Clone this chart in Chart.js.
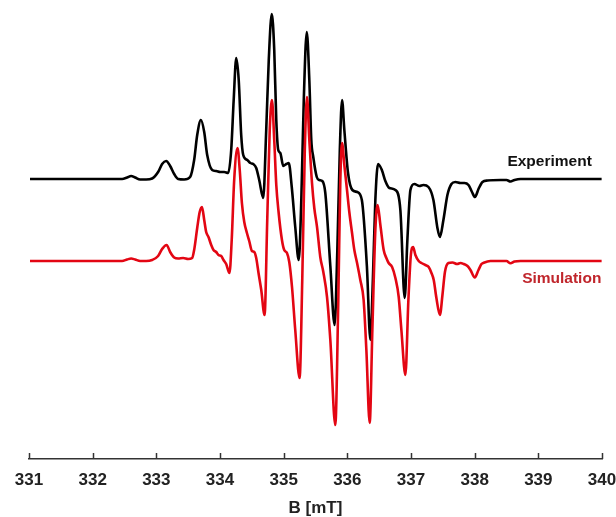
<!DOCTYPE html>
<html>
<head>
<meta charset="utf-8">
<script src="https://cdn.jsdelivr.net/npm/chart.js@4"></script>
<style>
  html, body { margin: 0; padding: 0; background: #fff; }
  canvas { display: block; }
</style>
</head>
<body>
<canvas id="chart" width="616" height="517"></canvas>
<script>
// measured EPR spectrum: field (mT) and derivative signal (arb. units)
const expField = [
  331.016, 331.487, 332.116, 332.462, 332.541, 332.604, 332.667, 332.745, 332.840, 332.934,
  333.028, 333.091, 333.154, 333.217, 333.280, 333.343, 333.437, 333.531, 333.594, 333.642,
  333.700, 333.752, 333.799, 333.877, 333.940, 334.003, 334.066, 334.129, 334.176, 334.215,
  334.255, 334.294, 334.333, 334.365, 334.428, 334.475, 334.522, 334.569, 334.616, 334.679,
  334.726, 334.766, 334.813, 334.852, 334.884, 334.915, 334.947, 334.994, 335.041, 335.080,
  335.127, 335.182, 335.237, 335.277, 335.316, 335.363, 335.403, 335.434, 335.465, 335.520,
  335.560, 335.607, 335.654, 335.733, 335.800, 335.843, 335.882, 335.917, 335.953, 336.011,
  336.079, 336.157, 336.228, 336.307, 336.362, 336.401, 336.440, 336.483, 336.542, 336.597,
  336.660, 336.755, 336.833, 336.901, 336.943, 336.991, 337.053, 337.132, 337.195, 337.274,
  337.352, 337.415, 337.454, 337.509, 337.572, 337.635, 337.698, 337.777, 337.840, 337.903,
  337.958, 338.005, 338.060, 338.123, 338.201, 338.406, 338.500, 338.563, 338.626, 338.720,
  339.349, 339.994
];
const expSignal = [
  0, 0, 0, 0, 1.5, 3, 1.5, -0.5, -0.5, 0.5,
  7, 15, 18, 13, 5, 0, -0.5, 2, 19, 44,
  59, 47, 24, 9, 8, 7, 7, 6, 29, 79,
  121, 99, 44, 24, 19, 16, 15, 11, -1, -19,
  49, 119, 165, 129, 59, 29, 26, 13, 15, 16,
  -8, -48, -81, -21, 79, 147, 99, 39, 22, 2,
  -1, -2, -14, -87, -146, -71, 29, 79, 49, 6,
  -11, -13, -21, -87, -161, -101, -21, 15, 9, -2,
  -9, -11, -31, -119, -61, -11, -5, -7, -6, -8,
  -21, -49, -58, -41, -16, -5, -3, -4, -4, -6,
  -13, -18, -10, -3, -1.5, -1, -1, -2.5, -1, 0,
  0, 0
];

// simulated spectrum on the same field axis
const simField = [
  331.016, 331.487, 332.116, 332.462, 332.541, 332.604, 332.667, 332.745, 332.840, 332.934,
  333.028, 333.091, 333.162, 333.217, 333.280, 333.343, 333.421, 333.500, 333.563, 333.594,
  333.642, 333.681, 333.717, 333.752, 333.783, 333.819, 333.862, 333.898, 333.940, 333.976,
  334.019, 334.055, 334.097, 334.149, 334.184, 334.223, 334.275, 334.310, 334.344, 334.381,
  334.423, 334.459, 334.502, 334.538, 334.569, 334.605, 334.648, 334.700, 334.742, 334.781,
  334.816, 334.852, 334.884, 334.920, 334.973, 335.009, 335.052, 335.088, 335.131, 335.182,
  335.250, 335.292, 335.332, 335.366, 335.403, 335.445, 335.481, 335.524, 335.575, 335.623,
  335.681, 335.733, 335.811, 335.858, 335.890, 335.917, 335.953, 335.995, 336.031, 336.074,
  336.110, 336.153, 336.204, 336.256, 336.299, 336.351, 336.393, 336.440, 336.476, 336.519,
  336.571, 336.613, 336.649, 336.703, 336.755, 336.807, 336.849, 336.912, 336.959, 336.998,
  337.033, 337.069, 337.121, 337.164, 337.226, 337.278, 337.321, 337.357, 337.399, 337.454,
  337.494, 337.533, 337.588, 337.651, 337.725, 337.777, 337.829, 337.887, 337.934, 338.002,
  338.060, 338.107, 338.143, 338.248, 338.406, 338.500, 338.563, 338.626, 338.720, 339.349,
  339.994
];
const simSignal = [
  0, 0, 0, 0, 1.5, 2.5, 1.5, 0, 0, 1,
  5, 12, 16, 9, 3.5, 2.5, 3, 2, 3, 11,
  33, 49, 54, 41, 29, 24, 16, 11, 9, 6,
  5, 1, -3, -12, 21, 81, 113, 91, 58, 39,
  28, 20, 10, 9, 3, -12, -29, -54, 41, 131,
  161, 121, 76, 49, 21, 11, 8, -1, -26, -69,
  -117, -19, 111, 164, 121, 78, 53, 34, 4, -11,
  -36, -79, -164, -39, 81, 118, 96, 71, 49, 28,
  11, -2, -19, -39, -89, -162, -69, 31, 56, 36,
  11, 3, -2, -6, -17, -36, -69, -114, -39, 6,
  14, 6, 0, -2, -4, -6, -12, -19, -37, -54,
  -34, -11, -2, -1.5, -3, -2, -3, -5, -9, -16.5,
  -9, -3, -1.7, 0, 0, 0, -2.3, -0.5, 0, 0,
  0
];

// the two traces are stacked with a vertical shift
const expOffset = 280;
const simOffset = 198;
const traceNames = ["Experiment", "Simulation"];
const fieldMin = 331;
const fieldMax = 340;

const fontFamily = "'Liberation Sans', Arial, sans-serif";

function toPoints(field, signal, offset) {
  return field.map((b, i) => ({ x: b, y: signal[i] + offset }));
}

// short tick marks pointing up into the plot
const innerTicks = {
  id: "innerTicks",
  afterDraw(chart) {
    const x = chart.scales.x;
    const ctx = chart.ctx;
    ctx.save();
    ctx.strokeStyle = "#333";
    ctx.lineWidth = 1.5;
    x.ticks.forEach(t => {
      const px = Math.round(x.getPixelForValue(t.value)) + 0.5;
      ctx.beginPath();
      ctx.moveTo(px, x.top);
      ctx.lineTo(px, x.top - 6);
      ctx.stroke();
    });
    ctx.restore();
  }
};

// names written next to each trace
const traceLabels = {
  id: "traceLabels",
  afterDatasetsDraw(chart) {
    const { ctx, scales: { x, y } } = chart;
    ctx.save();
    ctx.font = "bold 15.5px " + fontFamily;
    ctx.textAlign = "right";
    ctx.textBaseline = "middle";
    ctx.fillStyle = "#111";
    ctx.fillText(traceNames[0], x.getPixelForValue(339.84), y.getPixelForValue(expOffset + 17.5));
    ctx.fillStyle = "#c0262c";
    ctx.fillText(traceNames[1], x.getPixelForValue(339.99), y.getPixelForValue(simOffset - 17.5));
    ctx.restore();
  }
};

new Chart(document.getElementById("chart"), {
  type: "line",
  data: {
    datasets: [
      {
        label: traceNames[0],
        data: toPoints(expField, expSignal, expOffset),
        borderColor: "#000",
        borderWidth: 2.6,
        pointRadius: 0,
        cubicInterpolationMode: "monotone",
        borderJoinStyle: "round",
        order: 1
      },
      {
        label: traceNames[1],
        data: toPoints(simField, simSignal, simOffset),
        borderColor: "#e30613",
        borderWidth: 2.6,
        pointRadius: 0,
        cubicInterpolationMode: "monotone",
        borderJoinStyle: "round",
        order: 0
      }
    ]
  },
  options: {
    responsive: false,
    animation: false,
    devicePixelRatio: 1,
    layout: { padding: { left: 29, right: 14, top: 0, bottom: 0 } },
    plugins: { legend: { display: false }, tooltip: { enabled: false } },
    scales: {
      x: {
        type: "linear",
        min: fieldMin,
        max: fieldMax,
        grid: { display: false, drawTicks: false },
        border: { display: true, color: "#333", width: 1.5 },
        ticks: {
          stepSize: 1,
          autoSkip: false,
          maxRotation: 0,
          padding: 13,
          color: "#222",
          font: { family: fontFamily, size: 17, weight: "bold", lineHeight: 1 }
        },
        title: {
          display: true,
          text: "B [mT]",
          color: "#222",
          font: { family: fontFamily, size: 17, weight: "bold", lineHeight: 1 },
          padding: { top: 8, bottom: 0 }
        },
        afterFit(scale) {
          // keep the axis height fixed and let end labels overhang the padding
          scale.height = 58;
          scale.paddingLeft = 0;
          scale.paddingRight = 0;
        }
      },
      y: { display: false, min: 0, max: 459 }
    }
  },
  plugins: [innerTicks, traceLabels]
});
</script>
</body>
</html>
